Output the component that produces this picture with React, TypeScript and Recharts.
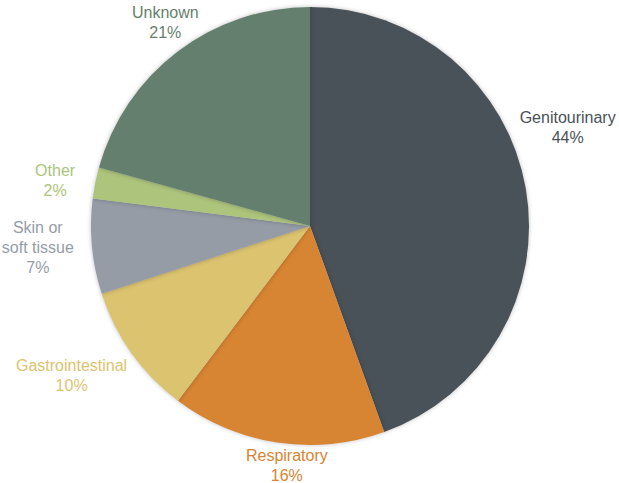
import React from 'react';
import { PieChart, Pie, Cell } from 'recharts';

const categories = ['Genitourinary', 'Respiratory', 'Gastrointestinal', 'Skin or\nsoft tissue', 'Other', 'Unknown'];
const values = [44.5, 15.8, 9.7, 7.0, 2.3, 20.7];
const percentLabels = ['44%', '16%', '10%', '7%', '2%', '21%'];
const colors = ['#4a5259', '#d78433', '#dcc36f', '#959ca6', '#adc47c', '#657f6e'];
// label placement (distance from centre, angular nudge in degrees)
const labelRadius = [276, 240, 281, 273, 259, 250];
const labelAngleNudge = [11.1, 3.1, -3.5, -1.0, 1.1, -1.9];

const data = categories.map((name, i) => ({ name, value: values[i] }));

const RAD = Math.PI / 180;

const renderLabel = (props: any) => {
  const { cx, cy, midAngle, index } = props;
  const a = (midAngle + labelAngleNudge[index]) * RAD;
  const r = labelRadius[index];
  const x = cx + r * Math.cos(-a);
  const y = cy + r * Math.sin(-a);
  const lines = [...categories[index].split('\n'), percentLabels[index]];
  const startY = y - ((lines.length - 1) * 20) / 2;
  return (
    <text
      key={`lbl-${index}`}
      x={x}
      y={startY}
      fill={colors[index]}
      textAnchor="middle"
      dominantBaseline="central"
      style={{ fontFamily: 'Liberation Sans, Arial, sans-serif', fontSize: 16 }}
    >
      {lines.map((l, i) => (
        <tspan key={i} x={x} y={startY + i * 20} dominantBaseline="central">
          {l}
        </tspan>
      ))}
    </text>
  );
};

export default function App() {
  return (
    <div style={{ position: 'absolute', left: 0, top: 0, width: 619, height: 483 }}>
      <PieChart width={619} height={483} margin={{ top: 0, right: 0, bottom: 0, left: 0 }} style={{ overflow: 'visible' }}>
        <Pie
          data={data}
          dataKey="value"
          nameKey="name"
          cx={310}
          cy={226}
          outerRadius={219}
          startAngle={90}
          endAngle={-270}
          stroke="none"
          label={renderLabel}
          labelLine={false}
          isAnimationActive={false}
          style={{ filter: 'drop-shadow(0px 0px 2px rgba(0,0,0,0.25))' }}
        >
          {data.map((d, i) => (
            <Cell key={d.name} fill={colors[i]} />
          ))}
        </Pie>
      </PieChart>
    </div>
  );
}
